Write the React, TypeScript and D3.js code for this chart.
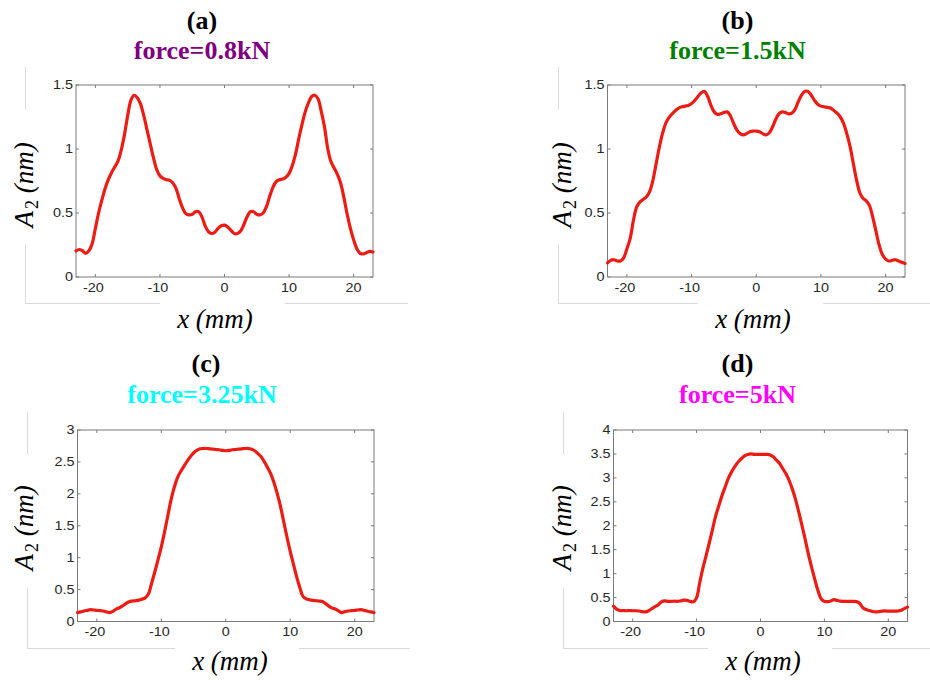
import React from "react";
import * as d3 from "d3";

// Position along the scan line (mm), shared by all four profiles
const X_MM = [
  -23, -22.5, -22, -21.5, -21, -20.5, -20, -19.5, -19, -18.5, -18, -17.5, -17, -16.5, -16, -15.5,
  -15, -14.5, -14, -13.5, -13, -12.5, -12, -11.5, -11, -10.5, -10, -9.5, -9, -8.5, -8, -7.5,
  -7, -6.5, -6, -5.5, -5, -4.5, -4, -3.5, -3, -2.5, -2, -1.5, -1, -0.5, 0,
  0.5, 1, 1.5, 2, 2.5, 3, 3.5, 4, 4.5, 5, 5.5, 6, 6.5, 7, 7.5, 8, 8.5, 9, 9.5, 10, 10.5,
  11, 11.5, 12, 12.5, 13, 13.5, 14, 14.5, 15, 15.5, 16, 16.5, 17, 17.5, 18, 18.5, 19, 19.5,
  20, 20.5, 21, 21.5, 22, 22.5, 23,
];

// Second-harmonic amplitude A2 (nm) for each applied force
const A2_0_8KN = [
  0.205, 0.215, 0.205, 0.185, 0.205, 0.26, 0.38, 0.5, 0.6, 0.69, 0.76, 0.815, 0.86, 0.905, 0.99, 1.11,
  1.26, 1.38, 1.42, 1.4, 1.35, 1.26, 1.15, 1.04, 0.93, 0.84, 0.79, 0.77, 0.76, 0.755, 0.735, 0.69,
  0.61, 0.54, 0.495, 0.485, 0.49, 0.51, 0.51, 0.47, 0.4, 0.355, 0.34, 0.35, 0.38, 0.4, 0.405,
  0.39, 0.365, 0.34, 0.34, 0.36, 0.41, 0.47, 0.51, 0.51, 0.49, 0.485, 0.5, 0.55, 0.63, 0.7, 0.745,
  0.76, 0.765, 0.78, 0.81, 0.87, 0.96, 1.08, 1.19, 1.29, 1.36, 1.41, 1.42, 1.39, 1.29, 1.17, 1.0,
  0.9, 0.85, 0.8, 0.73, 0.62, 0.49, 0.38, 0.29, 0.22, 0.185, 0.18, 0.19, 0.2, 0.195,
];

const A2_1_5KN = [
  0.11, 0.13, 0.135, 0.125, 0.125, 0.15, 0.22, 0.3, 0.44, 0.545, 0.585, 0.605, 0.625, 0.665, 0.75, 0.88,
  1.01, 1.12, 1.2, 1.245, 1.275, 1.3, 1.32, 1.33, 1.335, 1.34, 1.355, 1.38, 1.41, 1.44, 1.45, 1.41,
  1.34, 1.29, 1.27, 1.275, 1.285, 1.29, 1.26, 1.2, 1.15, 1.12, 1.11, 1.12, 1.135, 1.14, 1.14,
  1.135, 1.12, 1.11, 1.125, 1.17, 1.23, 1.275, 1.29, 1.285, 1.275, 1.28, 1.31, 1.37, 1.42, 1.45, 1.45,
  1.42, 1.38, 1.35, 1.335, 1.33, 1.325, 1.32, 1.3, 1.28, 1.25, 1.2, 1.12, 1.02, 0.89, 0.76, 0.66,
  0.615, 0.595, 0.56, 0.47, 0.36, 0.25, 0.175, 0.14, 0.125, 0.13, 0.135, 0.125, 0.115, 0.105,
];

const A2_3_25KN = [
  0.14, 0.15, 0.165, 0.175, 0.185, 0.18, 0.175, 0.17, 0.165, 0.15, 0.14, 0.16, 0.195, 0.215, 0.245, 0.28,
  0.31, 0.32, 0.325, 0.335, 0.35, 0.37, 0.43, 0.6, 0.78, 0.97, 1.17, 1.4, 1.65, 1.9, 2.1, 2.25,
  2.35, 2.43, 2.51, 2.58, 2.64, 2.68, 2.705, 2.71, 2.71, 2.705, 2.7, 2.695, 2.69, 2.68, 2.675,
  2.68, 2.69, 2.695, 2.7, 2.705, 2.71, 2.71, 2.7, 2.675, 2.63, 2.58, 2.5, 2.41, 2.31, 2.17, 2.0,
  1.8, 1.56, 1.32, 1.1, 0.9, 0.7, 0.53, 0.39, 0.355, 0.34, 0.33, 0.325, 0.32, 0.315, 0.28, 0.24,
  0.21, 0.195, 0.165, 0.14, 0.155, 0.165, 0.17, 0.175, 0.18, 0.185, 0.175, 0.16, 0.15, 0.14,
];

const A2_5KN = [
  0.32, 0.26, 0.23, 0.23, 0.225, 0.23, 0.225, 0.225, 0.22, 0.205, 0.2, 0.225, 0.27, 0.31, 0.35, 0.41,
  0.43, 0.42, 0.42, 0.425, 0.42, 0.43, 0.445, 0.44, 0.42, 0.41, 0.5, 0.82, 1.12, 1.38, 1.65, 1.93,
  2.21, 2.43, 2.64, 2.82, 3.0, 3.13, 3.24, 3.33, 3.4, 3.46, 3.49, 3.5, 3.49, 3.49, 3.49,
  3.49, 3.49, 3.48, 3.44, 3.37, 3.3, 3.19, 3.08, 2.94, 2.76, 2.54, 2.28, 2.0, 1.71, 1.4, 1.13,
  0.88, 0.64, 0.47, 0.42, 0.415, 0.43, 0.455, 0.44, 0.425, 0.42, 0.42, 0.42, 0.42, 0.415, 0.38, 0.29,
  0.25, 0.23, 0.21, 0.2, 0.205, 0.215, 0.22, 0.215, 0.215, 0.215, 0.22, 0.235, 0.27, 0.3,
];

const X_TICKS = [-20, -10, 0, 10, 20];
const Y_TICKS_1_5 = [0, 0.5, 1, 1.5];
const Y_TICKS_3 = [0, 0.5, 1, 1.5, 2, 2.5, 3];
const Y_TICKS_4 = [0, 0.5, 1, 1.5, 2, 2.5, 3, 3.5, 4];

const PANEL_TAGS = ["(a)", "(b)", "(c)", "(d)"];
const FORCE_LABELS = ["force=0.8kN", "force=1.5kN", "force=3.25kN", "force=5kN"];
const FORCE_COLORS = ["#800080", "#008000", "#00ffff", "#ff00ff"];
const X_DOMAIN = [-23, 23];

const SERIF = '"Liberation Serif", "Times New Roman", Times, serif';
const SANS = '"Liberation Sans", Arial, Helvetica, sans-serif';
const CURVE_RED = "#ec1c14";
const AXIS_GRAY = "#7a7a7a";
const FRAME_GRAY = "#d9d9d9";
const TICK_TEXT = "#262626";

type Seg = [number, number, number, number];

type Layout = {
  l: number; r: number; t: number; b: number;
  tagX: number; tagY: number; forceX: number; forceY: number;
  yLabX: number; yLabY: number; xLabX: number; xLabY: number;
  frame: Seg[];
};

const LAYOUTS: Layout[] = [
  {
    l: 76, r: 373, t: 85, b: 277,
    tagX: 202, tagY: 29, forceX: 202, forceY: 59,
    yLabX: 33, yLabY: 185, xLabX: 215, xLabY: 328,
    frame: [[25.5, 67, 25.5, 110], [25.5, 244, 25.5, 303.5], [25.5, 303.5, 160, 303.5], [285, 303.5, 408, 303.5]],
  },
  {
    l: 607.5, r: 905, t: 85, b: 277,
    tagX: 737.5, tagY: 29, forceX: 737.5, forceY: 59,
    yLabX: 571, yLabY: 185, xLabX: 753, xLabY: 328,
    frame: [[558.5, 67, 558.5, 110], [558.5, 244, 558.5, 303.5], [558.5, 303.5, 698, 303.5], [823, 303.5, 930, 303.5]],
  },
  {
    l: 77.5, r: 374, t: 430, b: 621.5,
    tagX: 206, tagY: 372, forceX: 202, forceY: 403,
    yLabX: 33, yLabY: 528, xLabX: 230, xLabY: 670,
    frame: [[27.5, 412, 27.5, 454], [27.5, 588, 27.5, 648.5], [27.5, 648.5, 175, 648.5], [299, 648.5, 410, 648.5]],
  },
  {
    l: 613.5, r: 907.5, t: 430, b: 621.5,
    tagX: 737.5, tagY: 372, forceX: 737.5, forceY: 403,
    yLabX: 571, yLabY: 528, xLabX: 763, xLabY: 670,
    frame: [[563.5, 412, 563.5, 454], [563.5, 588, 563.5, 648.5], [563.5, 648.5, 708, 648.5], [832, 648.5, 930, 648.5]],
  },
];

const SERIES = [A2_0_8KN, A2_1_5KN, A2_3_25KN, A2_5KN];
const Y_TICK_SETS = [Y_TICKS_1_5, Y_TICKS_1_5, Y_TICKS_3, Y_TICKS_4];

// Tick labels are drawn in a slightly widened sans face
function TickLabel({ x, y, anchor, text }: { x: number; y: number; anchor: "middle" | "end"; text: string }) {
  return (
    <text
      transform={`translate(${x},${y}) scale(1.2,1)`}
      textAnchor={anchor}
      fontFamily={SANS}
      fontSize={12}
      fill={TICK_TEXT}
    >
      {text}
    </text>
  );
}

function Panel({ index }: { index: number }) {
  const L = LAYOUTS[index];
  const values = SERIES[index];
  const yTicks = Y_TICK_SETS[index];
  const yMax = yTicks[yTicks.length - 1];

  const x = d3.scaleLinear().domain(X_DOMAIN).range([L.l, L.r]);
  const y = d3.scaleLinear().domain([0, yMax]).range([L.b, L.t]);

  const line = d3
    .line<number>()
    .x((_, i) => x(X_MM[i]))
    .y((d) => y(d))
    .curve(d3.curveCatmullRom.alpha(0.5));

  const tickLen = 3;

  return (
    <g>
      {L.frame.map((s, i) => (
        <line key={"f" + i} x1={s[0]} y1={s[1]} x2={s[2]} y2={s[3]} stroke={FRAME_GRAY} strokeWidth={1} />
      ))}

      <text x={L.tagX} y={L.tagY} textAnchor="middle" fontFamily={SERIF} fontWeight="bold" fontSize={26} fill="#000">
        {PANEL_TAGS[index]}
      </text>
      <text x={L.forceX} y={L.forceY} textAnchor="middle" fontFamily={SERIF} fontWeight="bold" fontSize={26} fill={FORCE_COLORS[index]}>
        {FORCE_LABELS[index]}
      </text>

      {/* axes box */}
      <rect x={L.l} y={L.t} width={L.r - L.l} height={L.b - L.t} fill="none" stroke={AXIS_GRAY} strokeWidth={1} />

      {X_TICKS.map((v) => (
        <g key={"x" + v}>
          <line x1={x(v)} x2={x(v)} y1={L.b} y2={L.b - tickLen} stroke={AXIS_GRAY} />
          <line x1={x(v)} x2={x(v)} y1={L.t} y2={L.t + tickLen} stroke={AXIS_GRAY} />
          <TickLabel x={x(v) - (v < 0 ? 2 : 0)} y={L.b + 14.5} anchor="middle" text={String(v)} />
        </g>
      ))}

      {yTicks.map((v) => (
        <g key={"y" + v}>
          <line x1={L.l} x2={L.l + tickLen} y1={y(v)} y2={y(v)} stroke={AXIS_GRAY} />
          <line x1={L.r} x2={L.r - tickLen} y1={y(v)} y2={y(v)} stroke={AXIS_GRAY} />
          <TickLabel x={L.l - 3} y={y(v) + 4.3} anchor="end" text={String(v)} />
        </g>
      ))}

      <path d={line(values) || ""} fill="none" stroke={CURVE_RED} strokeWidth={3.2} strokeLinejoin="round" strokeLinecap="round" />

      <text
        transform={`translate(${L.yLabX},${L.yLabY}) rotate(-90)`}
        textAnchor="middle"
        fontFamily={SERIF}
        fontStyle="italic"
        fontSize={27}
        fill="#000"
      >
        A
        <tspan fontSize={18} fontStyle="normal" dy={5} dx={2}>2</tspan>
        <tspan dy={-5}> (nm)</tspan>
      </text>

      <text x={L.xLabX} y={L.xLabY} textAnchor="middle" fontFamily={SERIF} fontStyle="italic" fontSize={27} fill="#000">
        x (mm)
      </text>
    </g>
  );
}

export default function App() {
  return (
    <svg
      width={930}
      height={680}
      viewBox="0 0 930 680"
      style={{ position: "absolute", left: 0, top: 0, background: "#fff" }}
    >
      <rect x={0} y={0} width={930} height={680} fill="#fff" />
      {[0, 1, 2, 3].map((i) => (
        <Panel key={i} index={i} />
      ))}
    </svg>
  );
}
